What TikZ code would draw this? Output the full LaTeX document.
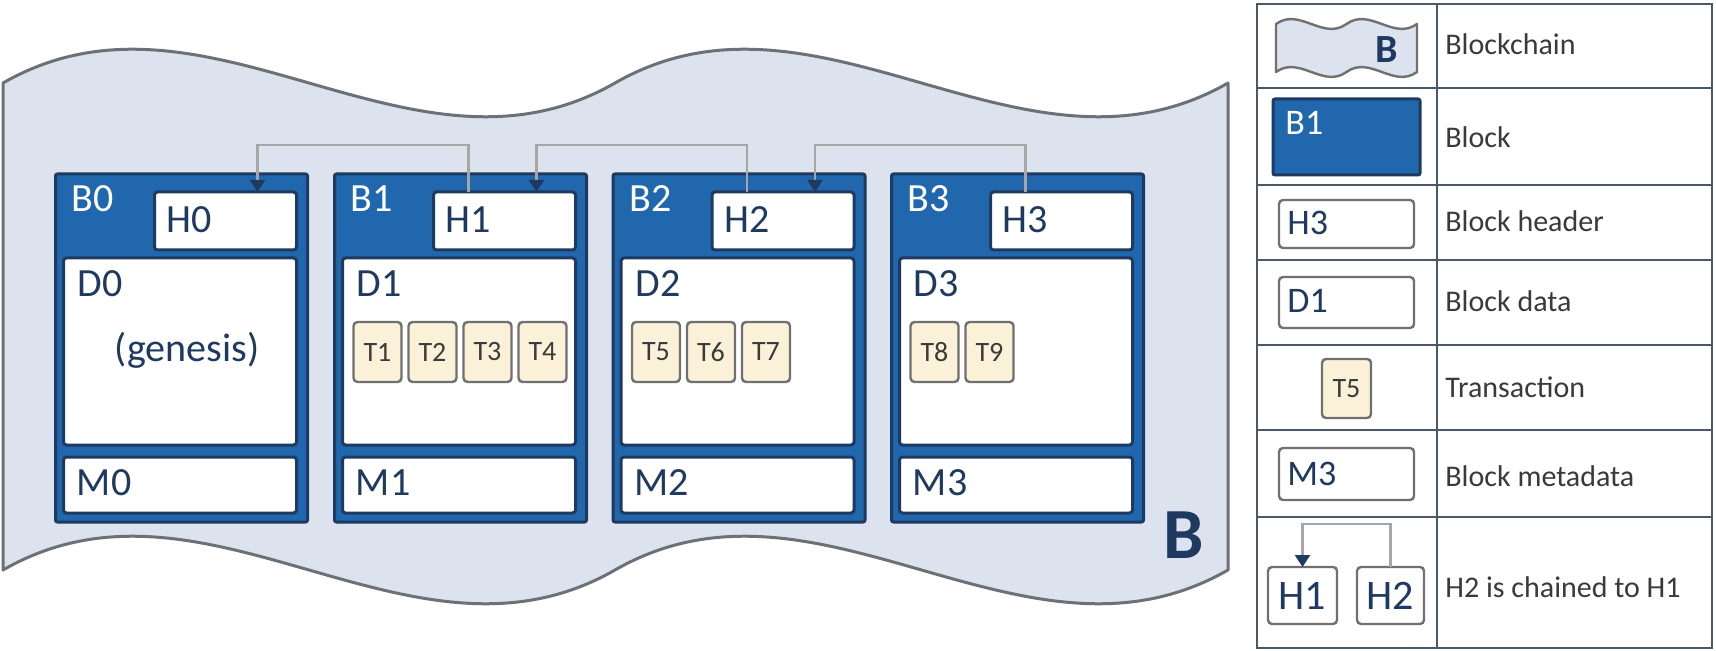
\documentclass[tikz,border=0pt]{standalone}
\usepackage{fontspec}
\setmainfont{Carlito}
\usetikzlibrary{arrows.meta,calc}
\definecolor{bfill}{HTML}{2167AD}
\definecolor{navy}{HTML}{1F3A60}
\definecolor{wavefill}{HTML}{DCE3EE}
\definecolor{wavedraw}{HTML}{6C7178}
\definecolor{tfill}{HTML}{FBF1D9}
\definecolor{tdraw}{HTML}{707070}
\definecolor{linkc}{HTML}{A6A6A6}
\definecolor{gridc}{HTML}{4A5868}
\definecolor{legtext}{HTML}{3A3A3A}
\tikzset{
  blockbox/.style={draw=navy, fill=bfill, line width=1.5pt, rounded corners=1pt, anchor=north west, inner sep=0pt, outer sep=0pt, minimum width=126pt, minimum height=174pt},
  innerbox/.style={draw=navy, fill=white, line width=1.5pt, rounded corners=1.5pt, anchor=north west, inner sep=0pt, outer sep=0pt},
  hbox/.style={innerbox, minimum width=71pt, minimum height=29pt},
  dbox/.style={innerbox, minimum width=116.5pt, minimum height=93.5pt},
  mbox/.style={innerbox, minimum width=116.5pt, minimum height=28pt},
  tbox/.style={draw=tdraw, fill=tfill, line width=1.2pt, rounded corners=2pt, anchor=north west, inner sep=0pt, outer sep=0pt, minimum width=24pt, minimum height=30pt, text=legtext, font=\fontsize{14}{16}\selectfont},
  lbl/.style={anchor=base west, inner sep=0pt, text=navy, font=\fontsize{20}{24}\selectfont},
  wlbl/.style={lbl, text=white},
  legbox/.style={draw=tdraw, fill=white, line width=1.2pt, rounded corners=2pt, anchor=north west, inner sep=0pt, outer sep=0pt},
  leglbl/.style={anchor=base west, inner sep=0pt, text=navy, font=\fontsize{18}{22}\selectfont},
  legtxt/.style={anchor=base west, inner sep=0pt, text=legtext, font=\fontsize{15}{18}\selectfont},
  linkline/.style={draw=linkc, line width=1.2pt, -{Triangle[width=7.5pt,length=6pt,fill=navy,color=navy]}},
  gridline/.style={draw=gridc, line width=1pt}
}
\begin{document}
\begin{tikzpicture}[x=0.5pt,y=-0.5pt]
\useasboundingbox (0,0) rectangle (1716,651);
\fill[white] (0,0) rectangle (1716,651);

% blockchain banner
\draw[fill=wavefill, draw=wavedraw, line width=1.5pt, line join=round]
  (3,83) .. controls (207,-34) and (411,200) .. (615,83)
         .. controls (819,-34) and (1024,200) .. (1228,83)
  -- (1228,570) .. controls (1024,687) and (819,453) .. (615,570)
                .. controls (411,687) and (207,453) .. (3,570) -- cycle;
\node[anchor=base west, inner sep=0pt, text=navy, font=\bfseries\fontsize{36}{40}\selectfont] (bigB) at (1163,558) {B};

% blocks
\foreach \i/\L in {0/55.5,1/334.5,2/613,3/891.5} {
  \node[blockbox] (B\i) at (\L,174) {};
  \node[hbox] (H\i) at (\L+99,192) {};
  \node[dbox] (D\i) at (\L+8,258) {};
  \node[mbox] (M\i) at (\L+8,457) {};
  \node[wlbl] (lB\i) at (\L+16,212) {B\i};
  \node[lbl] (lH\i) at (\L+111,233) {H\i};
  \node[lbl] (lD\i) at (\L+22,297) {D\i};
  \node[lbl] (lM\i) at (\L+21,495) {M\i};
}
\node[anchor=base, inner sep=0pt, text=navy, font=\fontsize{20}{24}\selectfont] (gen) at (187,362) {(genesis)};

% transactions
\foreach \j/\X in {1/353.5,2/408.5,3/463.5,4/518.5,5/632,6/687,7/742,8/910.5,9/965.5} {
  \node[tbox] (T\j) at (\X,322) {T\j};
}

% chain links
\draw[linkline] ($(H1.north west)+(35,0)$) -- ++(0,-47) -| ($(H0.north west)+(103,0)$);
\draw[linkline] ($(H2.north west)+(35,0)$) -- ++(0,-47) -| ($(H1.north west)+(103,0)$);
\draw[linkline] ($(H3.north west)+(35,0)$) -- ++(0,-47) -| ($(H2.north west)+(103,0)$);

% legend table
\draw[gridline] (1257,4) rectangle (1712,648);
\draw[gridline] (1437,4) -- (1437,648);
\foreach \yy in {88,185,260,345,430,517} {
  \draw[gridline] (1257,\yy) -- (1712,\yy);
}

% row 1: blockchain icon
\draw[fill=wavefill, draw=tdraw, line width=1.2pt, line join=round]
  (1276,24) .. controls (1299.5,7) and (1323,41) .. (1346.5,24)
            .. controls (1370,7) and (1393.5,41) .. (1417,24)
  -- (1417,72) .. controls (1393.5,89) and (1370,55) .. (1346.5,72)
               .. controls (1323,89) and (1299.5,55) .. (1276,72) -- cycle;
\node[anchor=base west, inner sep=0pt, text=navy, font=\bfseries\fontsize{20}{24}\selectfont] (legBB) at (1375,63) {B};
\node[legtxt] (t1) at (1445,55) {Blockchain};

% row 2: block
\node[blockbox, minimum width=73.5pt, minimum height=38pt] (legB) at (1273,99) {};
\node[leglbl, text=white] (legB1) at (1285,135) {B1};
\node[legtxt] (t2) at (1445,148) {Block};

% row 3: header
\node[legbox, minimum width=67.5pt, minimum height=24pt] (legH) at (1279,200) {};
\node[leglbl] (legH3) at (1287,235) {H3};
\node[legtxt] (t3) at (1445,232) {Block header};

% row 4: data
\node[legbox, minimum width=67.5pt, minimum height=25.5pt] (legD) at (1279,277) {};
\node[leglbl] (legD1) at (1287,313) {D1};
\node[legtxt] (t4) at (1445,312) {Block data};

% row 5: transaction
\node[tbox, minimum width=24.5pt, minimum height=29.5pt] (legT) at (1322,359) {T5};
\node[legtxt] (t5) at (1445,398) {Transaction};

% row 6: metadata
\node[legbox, minimum width=67.5pt, minimum height=26pt] (legM) at (1279,448) {};
\node[leglbl] (legM3) at (1287,485) {M3};
\node[legtxt] (t6) at (1445,486) {Block metadata};

% row 7: chaining
\node[legbox, minimum width=34.5pt, minimum height=28.5pt, text=navy, font=\fontsize{21}{24}\selectfont] (lgH1) at (1268,567) {H1};
\node[legbox, minimum width=33.5pt, minimum height=28.5pt, text=navy, font=\fontsize{21}{24}\selectfont] (lgH2) at (1357,567) {H2};
\draw[linkline] (lgH2.north) -- ++(0,-43) -| (lgH1.north);
\node[legtxt] (t7) at (1445,597) {H2 is chained to H1};
\end{tikzpicture}
\end{document}
